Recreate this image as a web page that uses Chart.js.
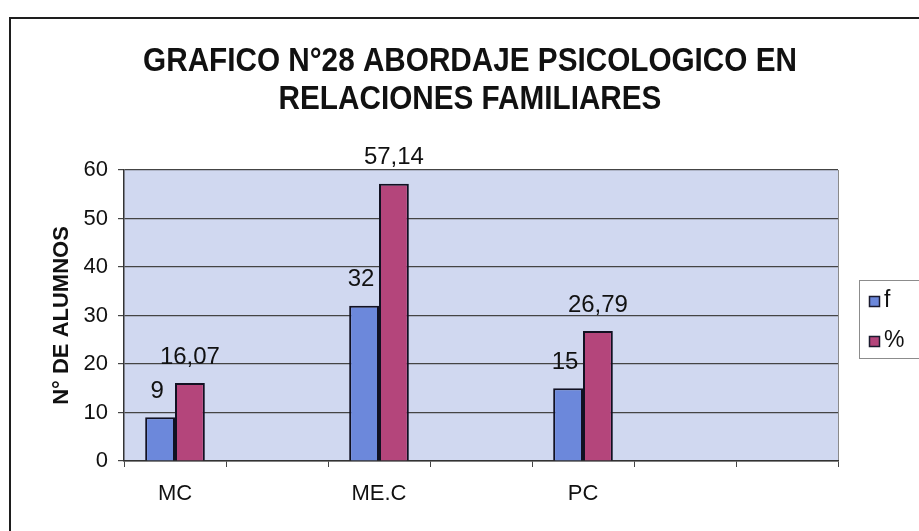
<!DOCTYPE html>
<html>
<head>
<meta charset="utf-8">
<script src="https://cdn.jsdelivr.net/npm/chart.js@4/dist/chart.umd.min.js"></script>
<style>
  html, body { margin: 0; padding: 0; background: #fff; }
  canvas { display: block; }
</style>
</head>
<body>
<canvas id="chart" width="919" height="531"></canvas>
<script>
// datos
const CATEGORIES = ['MC', '', 'ME.C', '', 'PC', '', ''];
const FREQ = [9, null, 32, null, 15, null, null];
const PCT = [16.07, null, 57.14, null, 26.79, null, null];
const SERIES_NAMES = ['f', '%'];
const TITLE_LINES = ['GRAFICO N°28 ABORDAJE PSICOLOGICO EN', 'RELACIONES FAMILIARES'];
const Y_TITLE = 'N° DE ALUMNOS';

const FONT = "'Liberation Sans', Arial, sans-serif";

// fondo del area de trazado + marco exterior
const backdrop = {
    id: 'backdrop',
    beforeDraw(chart) {
        const { ctx, chartArea: a } = chart;
        ctx.save();
        ctx.fillStyle = '#d0d8f0';
        ctx.fillRect(a.left, a.top, a.right - a.left, a.bottom - a.top);
        ctx.strokeStyle = '#8a8a8a';
        ctx.lineWidth = 1;
        ctx.beginPath();
        ctx.moveTo(a.right + 0.5, a.top);
        ctx.lineTo(a.right + 0.5, a.bottom);
        ctx.stroke();
        // marco del grafico (solo se ven arriba e izquierda)
        ctx.strokeStyle = '#1e1e1e';
        ctx.lineWidth = 2;
        ctx.beginPath();
        ctx.moveTo(10, 531);
        ctx.lineTo(10, 18);
        ctx.lineTo(919, 18);
        ctx.stroke();
        ctx.restore();
    }
};

// titulo centrado sobre la hoja (letra algo estrecha, como en el original)
const titleText = {
    id: 'titleText',
    afterDraw(chart) {
        const ctx = chart.ctx;
        ctx.save();
        ctx.fillStyle = '#111';
        ctx.font = `bold 33px ${FONT}`;
        ctx.textAlign = 'center';
        ctx.textBaseline = 'middle';
        ctx.translate(470, 0);
        ctx.scale(0.9, 1);
        TITLE_LINES.forEach((t, i) => ctx.fillText(t, 0, 62 + i * 38));
        ctx.restore();
    }
};

// etiquetas de valor encima de cada barra
const valueLabels = {
    id: 'valueLabels',
    afterDatasetsDraw(chart) {
        const ctx = chart.ctx;
        ctx.save();
        ctx.fillStyle = '#111';
        ctx.font = `24px ${FONT}`;
        ctx.textAlign = 'center';
        ctx.textBaseline = 'middle';
        chart.data.datasets.forEach((ds, di) => {
            const meta = chart.getDatasetMeta(di);
            meta.data.forEach((bar, i) => {
                const v = ds.data[i];
                if (v === null) return;
                const txt = String(v).replace('.', ',');
                const dx = di === 0 ? -3 : 0;
                ctx.fillText(txt, bar.x + dx, bar.y - 26);
            });
        });
        ctx.restore();
    }
};

// leyenda con recuadro a la derecha
const boxLegend = {
    id: 'boxLegend',
    afterDraw(chart) {
        const ctx = chart.ctx;
        ctx.save();
        ctx.strokeStyle = '#8c8c8c';
        ctx.lineWidth = 1;
        ctx.strokeRect(859.5, 280.5, 80, 78);
        ctx.font = `23px ${FONT}`;
        ctx.textBaseline = 'middle';
        chart.data.datasets.forEach((ds, i) => {
            const cy = 301 + i * 40;
            ctx.fillStyle = ds.backgroundColor;
            ctx.fillRect(869, cy - 5, 11, 11);
            ctx.strokeStyle = '#1a1a2e';
            ctx.lineWidth = 1.5;
            ctx.strokeRect(869.5, cy - 4.5, 10, 10);
            ctx.fillStyle = '#111';
            ctx.fillText(ds.label, 884, cy);
        });
        ctx.restore();
    }
};

new Chart(document.getElementById('chart'), {
    type: 'bar',
    data: {
        labels: CATEGORIES,
        datasets: [
            {
                label: SERIES_NAMES[0],
                data: FREQ,
                backgroundColor: '#6c88db',
                borderColor: '#111122',
                borderWidth: 2
            },
            {
                label: SERIES_NAMES[1],
                data: PCT,
                backgroundColor: '#b4457b',
                borderColor: '#111122',
                borderWidth: 2
            }
        ]
    },
    options: {
        responsive: false,
        animation: false,
        layout: { padding: { top: 170, right: 81, bottom: 0, left: 0 } },
        datasets: {
            bar: { categoryPercentage: 0.585, barPercentage: 1 }
        },
        plugins: {
            legend: { display: false },
            title: { display: false },
            tooltip: { enabled: false }
        },
        scales: {
            x: {
                offset: true,
                grid: {
                    offset: true,
                    drawOnChartArea: false,
                    drawTicks: true,
                    tickLength: 6,
                    color: '#444'
                },
                border: { color: '#333', width: 1.5 },
                ticks: {
                    autoSkip: false,
                    maxRotation: 0,
                    padding: 14,
                    color: '#111',
                    font: { family: FONT, size: 22 }
                },
                afterFit: (scale) => { scale.height = 70; }
            },
            y: {
                min: 0,
                max: 60,
                ticks: {
                    stepSize: 10,
                    padding: 10,
                    color: '#111',
                    font: { family: FONT, size: 22 }
                },
                grid: { color: '#444', lineWidth: 1.2, tickLength: 6 },
                border: { color: '#333', width: 1.5 },
                title: {
                    display: true,
                    text: Y_TITLE,
                    color: '#111',
                    font: { family: FONT, size: 22, weight: 'bold' },
                    padding: { top: 49, bottom: 0 }
                },
                afterFit: (scale) => { scale.width = 124; }
            }
        }
    },
    plugins: [backdrop, titleText, valueLabels, boxLegend]
});
</script>
</body>
</html>
